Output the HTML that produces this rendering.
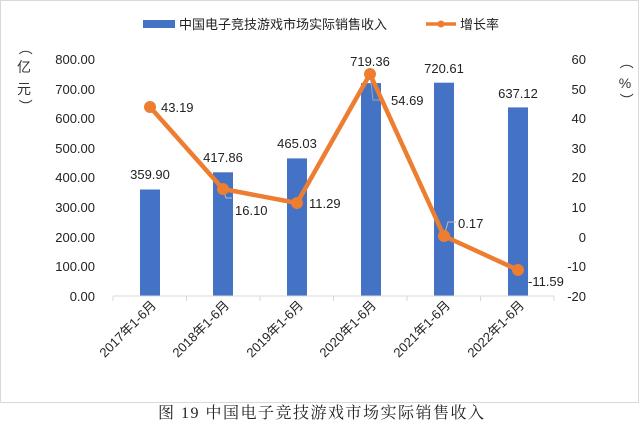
<!DOCTYPE html>
<html><head><meta charset="utf-8"><style>
html,body{margin:0;padding:0;background:#fff;}
body{width:640px;height:432px;overflow:hidden;}
</style></head><body>
<svg width="640" height="432" viewBox="0 0 640 432" xmlns="http://www.w3.org/2000/svg" font-family="Liberation Sans, Noto Sans CJK SC, sans-serif">
<rect x="0.5" y="0.5" width="638" height="402" fill="#fff" stroke="#d9d9d9"/>
<!-- legend -->
<rect x="143" y="20" width="32" height="8" fill="#4472c4"/>
<text x="179" y="29" font-size="13" fill="#222">中国电子竞技游戏市场实际销售收入</text>
<line x1="426" y1="24" x2="456" y2="24" stroke="#ed7d31" stroke-width="3.5"/>
<circle cx="441" cy="24" r="3.5" fill="#ed7d31"/>
<text x="460" y="29" font-size="13" fill="#222">增长率</text>
<!-- axis titles -->
<g font-size="14" fill="#333" text-anchor="middle">
<text x="24" y="52" transform="rotate(90 24 48)">（</text>
<text x="24" y="72">亿</text>
<text x="24" y="94">元</text>
<text x="24" y="110" transform="rotate(90 24 106)">）</text>
<text x="625" y="66" transform="rotate(90 625 62)">（</text>
<text x="625" y="88">%</text>
<text x="625" y="104" transform="rotate(90 625 100)">）</text>
</g>
<!-- left ticks -->
<g font-size="13" fill="#222" text-anchor="end">
<text x="95" y="64">800.00</text>
<text x="95" y="94">700.00</text>
<text x="95" y="123">600.00</text>
<text x="95" y="153">500.00</text>
<text x="95" y="182">400.00</text>
<text x="95" y="212">300.00</text>
<text x="95" y="242">200.00</text>
<text x="95" y="271">100.00</text>
<text x="95" y="301">0.00</text>
</g>
<g font-size="13" fill="#222" text-anchor="end">
<text x="586" y="64">60</text>
<text x="586" y="94">50</text>
<text x="586" y="123">40</text>
<text x="586" y="153">30</text>
<text x="586" y="182">20</text>
<text x="586" y="212">10</text>
<text x="586" y="242">0</text>
<text x="586" y="271">-10</text>
<text x="586" y="301">-20</text>
</g>
<!-- bars -->
<g fill="#4472c4">
<rect x="140" y="189.5" width="20" height="106.5"/>
<rect x="213" y="172.3" width="20" height="123.7"/>
<rect x="287" y="158.4" width="20" height="137.6"/>
<rect x="361" y="83.1" width="20" height="212.9"/>
<rect x="434" y="82.7" width="20" height="213.3"/>
<rect x="508" y="107.4" width="20" height="188.6"/>
</g>
<line x1="113" y1="296" x2="554" y2="296" stroke="#d9d9d9"/>
<g stroke="#d9d9d9">
<line x1="113" y1="296" x2="113" y2="301"/><line x1="186.5" y1="296" x2="186.5" y2="301"/>
<line x1="260" y1="296" x2="260" y2="301"/><line x1="333.5" y1="296" x2="333.5" y2="301"/>
<line x1="407" y1="296" x2="407" y2="301"/><line x1="480.5" y1="296" x2="480.5" y2="301"/>
<line x1="554" y1="296" x2="554" y2="301"/>
</g>
<!-- leader lines -->
<polyline points="370,74 373,100 380,100" fill="none" stroke="#a6a6a6"/>
<polyline points="444,236 448,222 456,222" fill="none" stroke="#bfbfbf"/>
<polyline points="223,189 226,198 232,198" fill="none" stroke="#bfbfbf"/>
<!-- line -->
<polyline points="150,107 223,189 297,203 370,74 444,236 518,270" fill="none" stroke="#ed7d31" stroke-width="4.5" stroke-linejoin="round"/>
<g fill="#ed7d31">
<circle cx="150" cy="107" r="6"/><circle cx="223" cy="189" r="6"/><circle cx="297" cy="203" r="6"/>
<circle cx="370" cy="74" r="6"/><circle cx="444" cy="236" r="6"/><circle cx="518" cy="270" r="6"/>
</g>
<!-- bar labels -->
<g font-size="13" fill="#222" text-anchor="middle">
<text x="150" y="179">359.90</text>
<text x="223" y="162">417.86</text>
<text x="297" y="148">465.03</text>
<text x="370" y="66">719.36</text>
<text x="444" y="73">720.61</text>
<text x="518" y="98">637.12</text>
</g>
<g font-size="13" fill="#222">
<text x="161" y="112">43.19</text>
<text x="235" y="215">16.10</text>
<text x="309" y="208">11.29</text>
<text x="391" y="105">54.69</text>
<text x="458" y="228">0.17</text>
<text x="528" y="286">-11.59</text>
</g>
<!-- x labels -->
<g font-size="13" fill="#222" text-anchor="end">
<text transform="translate(157,306) rotate(-45)">2017年1-6月</text>
<text transform="translate(230,306) rotate(-45)">2018年1-6月</text>
<text transform="translate(304,306) rotate(-45)">2019年1-6月</text>
<text transform="translate(377,306) rotate(-45)">2020年1-6月</text>
<text transform="translate(451,306) rotate(-45)">2021年1-6月</text>
<text transform="translate(525,306) rotate(-45)">2022年1-6月</text>
</g>
<text x="158" y="418" font-size="16" fill="#222" letter-spacing="1.5" font-family="Liberation Serif, Noto Serif CJK SC, serif">图 19 中国电子竞技游戏市场实际销售收入</text>
</svg>
</body></html>
